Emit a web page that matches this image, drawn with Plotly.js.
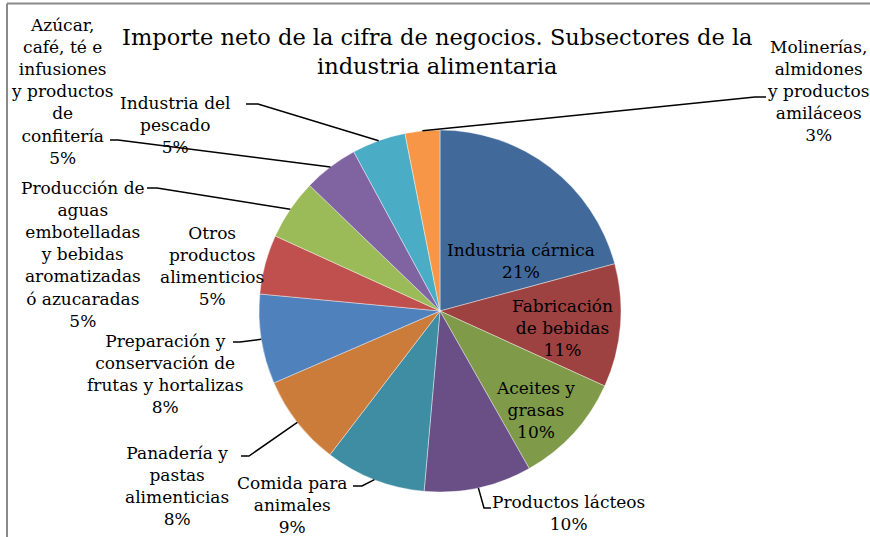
<!DOCTYPE html>
<html>
<head>
<meta charset="utf-8">
<script src="https://cdn.plot.ly/plotly-3.0.1.min.js"></script>
<style>html,body{margin:0;padding:0;background:#fff;}#chart{width:870px;height:537px;}</style>
</head>
<body>
<div id="chart"></div>
<script>
// ---- data ----
const labels = ["Industria cárnica","Fabricación de bebidas","Aceites y grasas","Productos lácteos","Comida para animales","Panadería y pastas alimenticias","Preparación y conservación de frutas y hortalizas","Otros productos alimenticios","Producción de aguas embotelladas y bebidas aromatizadas ó azucaradas","Azúcar, café, té e infusiones y productos de confitería","Industria del pescado","Molinerías, almidones y productos amiláceos"];
const values = [20.8, 11.0, 10.0, 9.6, 9.0, 8.1, 8.0, 5.3, 5.4, 4.9, 4.8, 3.1];
const labelText = ["Industria cárnica","Fabricación<br>de bebidas","Aceites y<br>grasas","Productos lácteos","Comida para<br>animales","Panadería y<br>pastas<br>alimenticias","Preparación y<br>conservación de<br>frutas y hortalizas","Otros<br>productos<br>alimenticios","Producción de<br>aguas<br>embotelladas<br>y bebidas<br>aromatizadas<br>ó azucaradas","Azúcar,<br>café, té e<br>infusiones<br>y productos<br>de<br>confitería","Industria del<br>pescado","Molinerías,<br>almidones<br>y productos<br>amiláceos"];
const colors = ["#416A9B","#9D4240","#7F9A49","#694F86","#3E8DA3","#CB7B3A","#4F81BD","#C0504D","#9BBB59","#8064A2","#4BACC6","#F79646"];
const titleText = "Importe neto de la cifra de negocios. Subsectores de la<br>industria alimentaria";

// ---- layout (pixels) ----
const W = 870, H = 537;
const cx = 440, cy = 311, R = 181;
const px = x => x / W, py = y => 1 - y / H;
const labelPos = [[521,261],[562,328],[535,410],[568,513],[292,505],[177,486],[165,374],[212,266],[83,254],[62,91],[175,125],[818,91]];
const leaders = [null,null,null,[[491,508],[484,508]],[[353,486],[362,486]],[[241,456],[249,456]],[[233,342],[240,342]],null,[[147,188],[157,188]],[[110,140],[118,140]],[[246,104],[258,104]],[[766,97],[755,97]]];

const total = values.reduce((a,b)=>a+b,0);
const font = "'DejaVu Serif', 'Liberation Serif', serif";
const annotations = [];
const shapes = [];
let cum = 0;
values.forEach((v,i) => {
  const mid = (cum + v/2) / total * 2 * Math.PI;
  cum += v;
  const pct = Math.round(v/total*100) + "%";
  annotations.push({
    xref:"paper", yref:"paper", x:px(labelPos[i][0]), y:py(labelPos[i][1]),
    xanchor:"center", yanchor:"middle", align:"center", showarrow:false,
    text: labelText[i] + "<br>" + pct,
    font:{family:font, size:17, color:"#000"}
  });
  if (leaders[i]) {
    const ex = cx + R*Math.sin(mid), ey = cy - R*Math.cos(mid);
    const [s,e] = leaders[i];
    shapes.push({type:"path", xref:"paper", yref:"paper",
      path:`M ${px(s[0])} ${py(s[1])} L ${px(e[0])} ${py(e[1])} L ${px(ex)} ${py(ey)}`,
      line:{color:"#000", width:1.5}});
  }
});
annotations.push({xref:"paper", yref:"paper", x:px(437), y:py(51.5), xanchor:"center", yanchor:"middle",
  showarrow:false, align:"center", text:titleText, font:{family:font, size:22.5, color:"#000"}});
shapes.push({type:"line", xref:"paper", yref:"paper", x0:px(7), y0:py(3.5), x1:1.01, y1:py(3.5), line:{color:"#8a8a8a", width:2}});
shapes.push({type:"line", xref:"paper", yref:"paper", x0:px(7), y0:py(3.5), x1:px(7), y1:-0.01, line:{color:"#8a8a8a", width:2}});

const trace = {
  type:"pie", labels:labels, values:values, sort:false, direction:"clockwise", rotation:0,
  textinfo:"none", hoverinfo:"label+percent",
  marker:{colors:colors, line:{color:"rgba(255,255,255,0.5)", width:0.8}},
  domain:{x:[px(cx-R), px(cx+R)], y:[py(cy+R), py(cy-R)]}
};
Plotly.newPlot("chart", [trace], {
  width:W, height:H, margin:{l:0,r:0,t:0,b:0}, showlegend:false,
  paper_bgcolor:"#fff", annotations:annotations, shapes:shapes
}, {displayModeBar:false, staticPlot:true});
</script>
</body>
</html>
